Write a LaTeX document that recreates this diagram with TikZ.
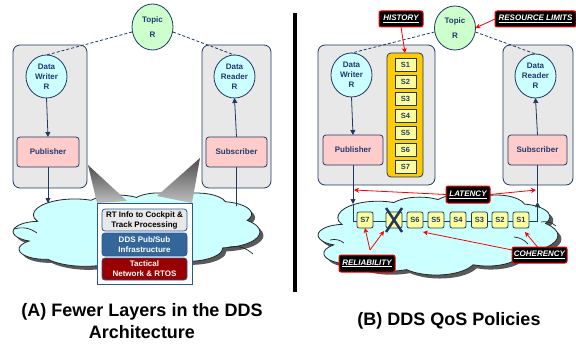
\documentclass[tikz,border=0pt]{standalone}
\usepackage{fontspec}
\setmainfont{Liberation Sans}
\usetikzlibrary{shapes.geometric,arrows.meta}
\definecolor{navy}{HTML}{1F3864}
\definecolor{txtblue}{HTML}{1F3A6E}
\definecolor{boxgray}{HTML}{E8E8E8}
\definecolor{cyanfill}{HTML}{CCFFFF}
\definecolor{greenfill}{HTML}{CCFFCC}
\definecolor{pinkfill}{HTML}{FFCCCC}
\definecolor{gold}{HTML}{FFCC00}
\definecolor{lyellow}{HTML}{FFFF99}
\definecolor{ddsblue}{HTML}{336699}
\definecolor{darkred}{HTML}{990000}
\definecolor{stackborder}{HTML}{2F5597}
\newcommand{\cloudoutline}{(34.5,143.05)
 arc[x radius=67.53, y radius=91.90, start angle=-190.49, delta angle=123.78]
 arc[x radius=53.33, y radius=72.67, start angle=-144.10, delta angle=89.95]
 arc[x radius=43.65, y radius=59.45, start angle=-145.81, delta angle=99.72]
 arc[x radius=48.57, y radius=65.95, start angle=-130.99, delta angle=117.24]
 arc[x radius=53.33, y radius=72.73, start angle=-78.71, delta angle=109.03]
 arc[x radius=67.75, y radius=92.20, start angle=-46.27, delta angle=130.27]
 arc[x radius=57.85, y radius=78.67, start angle=0.625, delta angle=114.03]
 arc[x radius=67.52, y radius=92.15, start angle=22.45, delta angle=115.17]
 arc[x radius=77.20, y radius=105.43, start angle=66.24, delta angle=75.71]
 arc[x radius=43.60, y radius=59.18, start angle=-274.94, delta angle=146.74]
 arc[x radius=43.45, y radius=59.45, start angle=-246.83, delta angle=152.52]
 -- cycle}
\tikzset{
  every node/.style={inner sep=0pt, outer sep=0pt, font=\fontsize{8}{10}\selectfont\bfseries, text=txtblue, align=center},
  graybox/.style={rectangle, rounded corners=7pt, draw=navy, fill=boxgray, line width=0.8pt},
  ent/.style={ellipse, draw=navy, fill=cyanfill, line width=0.8pt},
  topicnode/.style={ellipse, draw=navy, fill=greenfill, line width=0.8pt},
  pubbox/.style={rectangle, rounded corners=3pt, draw=navy, fill=pinkfill, line width=0.8pt},
  smp/.style={rectangle, rounded corners=2pt, draw=navy, fill=lyellow, line width=0.8pt, minimum width=16pt, minimum height=16pt, font=\fontsize{7.5}{9}\selectfont\bfseries},
  hs/.style={rectangle, draw=navy, fill=lyellow, line width=0.8pt, minimum width=21pt, minimum height=13pt, font=\fontsize{7.5}{9}\selectfont\bfseries},
  qos/.style={rectangle, rounded corners=2pt, draw=red, fill=black, line width=1pt, text=white, font=\fontsize{8}{10}\selectfont\bfseries\itshape},
  conn/.style={draw=navy, line width=0.8pt},
  arr/.style={conn, -{Triangle[width=5pt,length=5pt]}},
  dashline/.style={draw=navy, line width=0.8pt, dash pattern=on 3pt off 2pt},
  redarr/.style={draw=red, line width=0.8pt, -{Stealth[width=5pt,length=5pt]}},
  layer/.style={rectangle, rounded corners=3pt, draw=stackborder, line width=0.8pt, minimum width=85pt},
  caption/.style={font=\fontsize{18}{22}\selectfont\bfseries, text=black},
  cloudline/.style={draw=black!85, line width=0.8pt},
  crease/.style={draw=black!85, line width=0.7pt}
}
\begin{document}
\begin{tikzpicture}[x=1pt,y=-1pt]
\useasboundingbox (0,0) rectangle (576,345);
% ================= LEFT PANEL =================
\node[graybox, minimum width=74pt, minimum height=143pt] (wboxA) at (50,116.5) {};
\node[graybox, minimum width=69pt, minimum height=143pt] (rboxA) at (236.5,116.5) {};
\node[topicnode, minimum width=41pt, minimum height=46pt] (topicA) at (152.5,27) {Topic\\[5pt]R};
\node[ent, minimum width=41pt, minimum height=43pt] (dwA) at (46.5,76.5) {Data\\Writer\\R};
\node[ent, minimum width=41pt, minimum height=43pt] (drA) at (234.5,76.5) {Data\\Reader\\R};
\node[pubbox, minimum width=62pt, minimum height=30pt] (pubA) at (48,152) {Publisher};
\node[pubbox, minimum width=61pt, minimum height=30pt] (subA) at (236.5,152) {Subscriber};
\draw[dashline] (topicA.west) ++(0,5) coordinate (tA1) -- (dwA.north);
\draw[dashline] (topicA.east) ++(0,5) coordinate (tA2) -- (drA.north);
\draw[arr] (dwA.south) -- (pubA.north);
\draw[arr] (subA.north) -- (drA.south);
% cloud A
\begin{scope}[shift={(13,193)}, x=0.6114pt, y=-0.1733pt]
  \fill[black!65, shift={(3.5pt,-3.5pt)}] \cloudoutline;
  \path[cloudline, fill=cyanfill] \cloudoutline;
\end{scope}
\draw[crease] (14,229) to[bend left=25] (37,233);
\draw[crease] (229,247) to[bend left=25] (253,254);
\coordinate (pubAend) at (48,203);
\coordinate (subAend) at (236.5,206);
\draw[arr] (pubA.south) -- (pubAend);
\draw[conn] (subA.south) -- (subAend);
% funnel
\coordinate (fl1) at (88,165); \coordinate (fl2) at (97,203); \coordinate (fl3) at (127,201);
\coordinate (fr1) at (200,158); \coordinate (fr2) at (192,203); \coordinate (fr3) at (157,196);
\shade[top color=black!70, bottom color=black!25] (fl1) -- (fl2) -- (fl3) -- cycle;
\shade[top color=black!70, bottom color=black!25] (fr1) -- (fr2) -- (fr3) -- cycle;
% stack
\node[rectangle, draw=stackborder, fill=white, line width=0.8pt, minimum width=95pt, minimum height=81pt] (stack) at (144.5,243.5) {};
\node[layer, fill=boxgray, minimum height=22pt, text=black] (l1) at (144.5,220) {\fontsize{8}{9.5}\selectfont RT Info to Cockpit \&\\Track Processing};
\node[layer, fill=ddsblue, minimum height=23pt, text=white] (l2) at (144.5,244.5) {\fontsize{8}{9.5}\selectfont DDS Pub/Sub\\Infrastructure};
\node[layer, fill=darkred, minimum height=22pt, text=white] (l3) at (144.5,269) {\fontsize{8}{9.5}\selectfont Tactical\\Network \& RTOS};
\node[caption] (capA) at (142,321) {(A) Fewer Layers in the DDS\\Architecture};
% divider
\coordinate (divtop) at (295,13); \coordinate (divbot) at (295,292);
\draw[line width=3.5pt, black] (divtop) -- (divbot);
% ================= RIGHT PANEL =================
\node[graybox, minimum width=117pt, minimum height=140pt] (wboxB) at (376.5,115) {};
\node[graybox, minimum width=70pt, minimum height=140pt] (rboxB) at (538,115) {};
\node[topicnode, minimum width=41pt, minimum height=44pt] (topicB) at (455,28) {Topic\\[5pt]R};
\node[ent, minimum width=41pt, minimum height=44pt] (dwB) at (351.5,75) {Data\\Writer\\R};
\node[ent, minimum width=41pt, minimum height=44pt] (drB) at (535.5,76) {Data\\Reader\\R};
\node[pubbox, minimum width=60pt, minimum height=30pt] (pubB) at (353,150) {Publisher};
\node[pubbox, minimum width=59pt, minimum height=30pt] (subB) at (537.5,150) {Subscriber};
\draw[dashline] (topicB.west) ++(0,4) -- (dwB.north);
\draw[dashline] (topicB.east) ++(0,4) -- (drB.north);
\draw[arr] (dwB.south) -- (pubB.north);
\draw[arr] (subB.north) -- (drB.south);
% history stack
\node[rectangle, rounded corners=4pt, draw=navy, fill=gold, line width=0.8pt, minimum width=36pt, minimum height=124pt] (hist) at (405,115) {};
\foreach \i/\yy in {1/64.5,2/81.5,3/98.5,4/115.5,5/132.5,6/149.5,7/166.5}
  \node[hs] (h\i) at (405.5,\yy) {S\i};
% cloud B
\begin{scope}[shift={(318,195)}, x=0.594pt, y=-0.1801pt]
  \fill[black!65, shift={(3.5pt,-3.5pt)}] \cloudoutline;
  \path[cloudline, fill=cyanfill] \cloudoutline;
\end{scope}
\draw[crease] (330,240) to[bend left=25] (344,243);
\draw[crease] (541,222) to[bend left=25] (556,226);
\draw[crease] (514,237) to[bend left=20] (528,244);
\coordinate (pbA) at (353,204); \coordinate (pbB) at (353,221);
\coordinate (sbB) at (537.5,221); \coordinate (sbA) at (537.5,202);
\draw[arr] (pubB.south) -- (pbA);
\draw[conn] (pbA) -- (pbB) -- (sbB);
\draw[arr] (sbB) -- (sbA);
\draw[conn] (sbA) -- (subB.south);
\node[smp] (q7) at (365,220) {S7};
\node[smp] (qx) at (394,220) {};
\node[smp] (q6) at (415,220) {S6};
\node[smp] (q5) at (436,220) {S5};
\node[smp] (q4) at (458,220) {S4};
\node[smp] (q3) at (479.5,220) {S3};
\node[smp] (q2) at (500,220) {S2};
\node[smp] (q1) at (521,220) {S1};
\draw[navy, line width=2.5pt] ([shift={(-8,-12)}]qx.center) -- ([shift={(8,12)}]qx.center);
\draw[navy, line width=2.5pt] ([shift={(8,-12)}]qx.center) -- ([shift={(-8,12)}]qx.center);
% QoS labels
\node[qos, minimum width=44pt, minimum height=16pt] (lhist) at (401,19) {\underline{HISTORY}};
\node[qos, minimum width=81pt, minimum height=16pt] (lres) at (535.5,19) {\underline{RESOURCE LIMITS}};
\node[qos, minimum width=44pt, minimum height=17pt] (llat) at (468,194.5) {\underline{LATENCY}};
\node[qos, minimum width=56pt, minimum height=17pt] (lrel) at (367,263.5) {\underline{RELIABILITY}};
\node[qos, minimum width=55pt, minimum height=16pt] (lcoh) at (539.5,255) {\underline{COHERENCY}};
\draw[redarr] (lhist.south) -- (hist.north);
\draw[redarr] (lres.west) -- (topicB.east);
\coordinate (latL) at (354,190); \coordinate (latR) at (536,190);
\draw[redarr] (llat.west) -- (latL);
\draw[redarr] (llat.east) -- (latR);
\coordinate (relapex) at (370,250);
\draw[redarr] (relapex) -- (q7.south);
\draw[redarr] (relapex) -- ([xshift=-10pt,yshift=-3pt]qx.south);
\draw[redarr] ([yshift=-3pt]lcoh.north west) -- ([shift={(8,4)}]q6.south);
\draw[redarr] ([xshift=-2pt]lcoh.north) -- ([xshift=4pt,yshift=-4pt]q1.south);
\node[caption] (capB) at (449,321) {(B) DDS QoS Policies};
\end{tikzpicture}
\end{document}
